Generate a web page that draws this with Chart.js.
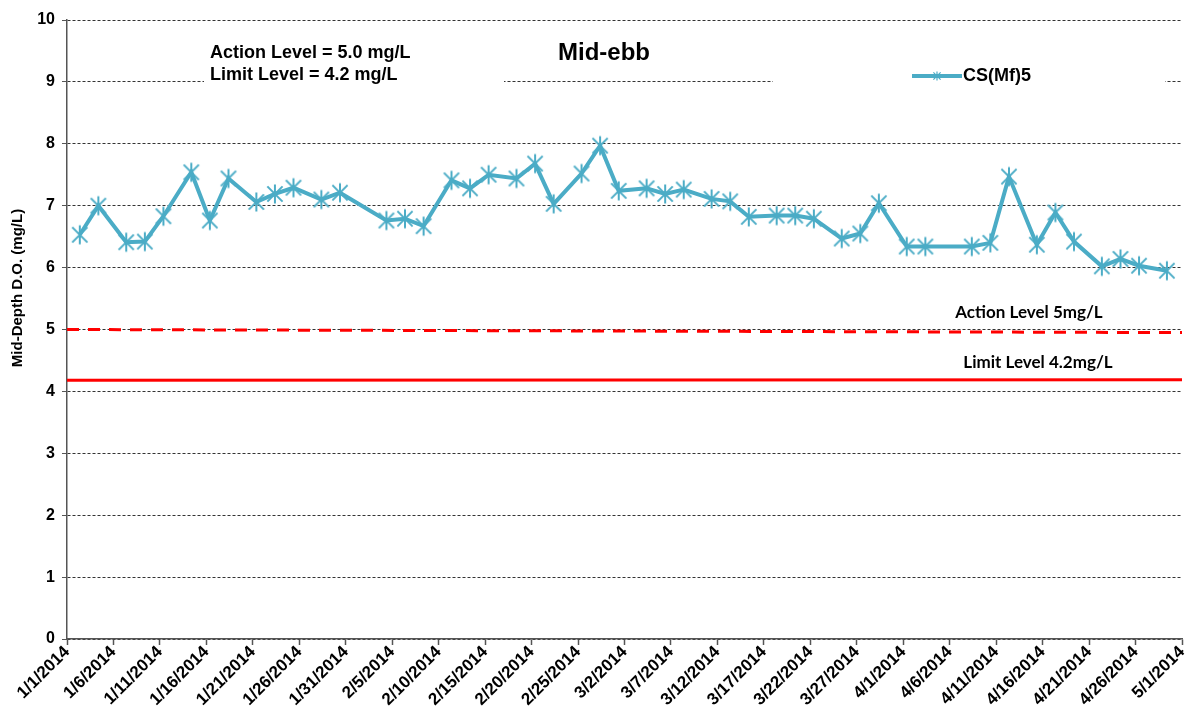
<!DOCTYPE html>
<html>
<head>
<meta charset="utf-8">
<script src="https://cdn.jsdelivr.net/npm/chart.js@4.4.1/dist/chart.umd.min.js"></script>
<style>
  html, body { margin: 0; padding: 0; background: #fff; }
  #wrap { width: 1197px; height: 722px; position: relative; }
</style>
</head>
<body>
<div id="wrap"><canvas id="chart"></canvas></div>
<script>
// Sampling dates (Mid-ebb, CS(Mf)5)
const sampleDates = [
  '2014-01-02', '2014-01-04', '2014-01-07', '2014-01-09', '2014-01-11', '2014-01-14', '2014-01-16',
  '2014-01-18', '2014-01-21', '2014-01-23', '2014-01-25', '2014-01-28', '2014-01-30', '2014-02-04',
  '2014-02-06', '2014-02-08', '2014-02-11', '2014-02-13', '2014-02-15', '2014-02-18', '2014-02-20',
  '2014-02-22', '2014-02-25', '2014-02-27', '2014-03-01', '2014-03-04', '2014-03-06', '2014-03-08',
  '2014-03-11', '2014-03-13', '2014-03-15', '2014-03-18', '2014-03-20', '2014-03-22', '2014-03-25',
  '2014-03-27', '2014-03-29', '2014-04-01', '2014-04-03', '2014-04-08', '2014-04-10', '2014-04-12',
  '2014-04-15', '2014-04-17', '2014-04-19', '2014-04-22', '2014-04-24', '2014-04-26', '2014-04-29'
];
const doValues = [
  6.53, 7.00, 6.41, 6.42, 6.83, 7.54, 6.76,
  7.44, 7.06, 7.19, 7.29, 7.10, 7.21, 6.76,
  6.79, 6.67, 7.41, 7.28, 7.50, 7.44, 7.68,
  7.03, 7.52, 7.97, 7.24, 7.28, 7.19, 7.26,
  7.11, 7.07, 6.82, 6.84, 6.84, 6.79, 6.47,
  6.55, 7.04, 6.34, 6.34, 6.34, 6.40, 7.47,
  6.37, 6.89, 6.42, 6.02, 6.14, 6.03, 5.95
];
const levelDates = ['2014-01-01', '2014-05-01'];
const actionLevel = [5.0, 4.95];
const limitLevel = [4.18, 4.19];
const yTicks = [0, 1, 2, 3, 4, 5, 6, 7, 8, 9, 10];

const startMs = Date.UTC(2014, 0, 1);
const dayOf = (s, hour) => (Date.parse(s + 'T' + hour + ':00:00Z') - startMs) / 864e5;
const fmtDay = v => {
  const d = new Date(startMs + v * 864e5);
  return (d.getUTCMonth() + 1) + '/' + d.getUTCDate() + '/' + d.getUTCFullYear();
};

const blue = '#4bacc6';
const arial = '"Liberation Sans", Arial, sans-serif';

// Excel-like star marker: X plus a vertical bar
function makeStar(size, color, width) {
  const c = document.createElement('canvas');
  c.width = size; c.height = size;
  const g = c.getContext('2d');
  const m = size / 2, r = size / 2 - 1.5;
  g.strokeStyle = color;
  g.lineWidth = width;
  g.beginPath();
  g.moveTo(m - r * 0.8, m - r * 0.8); g.lineTo(m + r * 0.8, m + r * 0.8);
  g.moveTo(m + r * 0.8, m - r * 0.8); g.lineTo(m - r * 0.8, m + r * 0.8);
  g.moveTo(m, m - r); g.lineTo(m, m + r);
  g.stroke();
  return c;
}
const star = makeStar(22, blue, 2);
const smallStar = makeStar(12, blue, 1.2);

const seriesData = sampleDates.map((d, i) => ({ x: dayOf(d, '09'), y: doValues[i] }));
const actionData = levelDates.map((d, i) => ({ x: dayOf(d, '00'), y: actionLevel[i] }));
const limitData = levelDates.map((d, i) => ({ x: dayOf(d, '00'), y: limitLevel[i] }));

const annotations = {
  id: 'annotations',
  afterDatasetsDraw(chart) {
    const ctx = chart.ctx;
    ctx.save();
    // white boxes hiding gridlines behind the text boxes
    ctx.fillStyle = '#fff';
    ctx.fillRect(204, 36, 300, 52);
    ctx.fillRect(773, 62, 392, 28);

    ctx.fillStyle = '#000';
    ctx.textBaseline = 'middle';
    ctx.textAlign = 'left';
    ctx.font = 'bold 18px ' + arial;
    ctx.fillText('Action Level = 5.0 mg/L', 210, 53);
    ctx.fillText('Limit Level = 4.2 mg/L', 210, 75);

    ctx.textAlign = 'center';
    ctx.font = 'bold 24px ' + arial;
    ctx.fillText('Mid-ebb', 604, 53);

    // legend
    ctx.strokeStyle = blue;
    ctx.lineWidth = 4;
    ctx.beginPath();
    ctx.moveTo(912, 76); ctx.lineTo(962, 76);
    ctx.stroke();
    ctx.drawImage(smallStar, 937 - 6, 76 - 6);
    ctx.textAlign = 'left';
    ctx.font = 'bold 18px ' + arial;
    ctx.fillText('CS(Mf)5', 963, 76);

    // level labels
    ctx.textAlign = 'center';
    ctx.font = 'bold 17px Lato, "Open Sans", sans-serif';
    ctx.fillText('Action Level 5mg/L', 1029, 313);
    ctx.fillText('Limit Level 4.2mg/L', 1038, 363);

    // y axis title
    ctx.translate(18, 288);
    ctx.rotate(-Math.PI / 2);
    ctx.font = 'bold 15px ' + arial;
    ctx.fillText('Mid-Depth D.O. (mg/L)', 0, 0);
    ctx.restore();
  }
};

new Chart(document.getElementById('chart'), {
  type: 'line',
  data: {
    datasets: [
      {
        label: 'Action Level',
        data: actionData,
        borderColor: '#ff0000',
        borderWidth: 3,
        borderDash: [12, 9],
        pointRadius: 0,
        fill: false
      },
      {
        label: 'Limit Level',
        data: limitData,
        borderColor: '#ff0000',
        borderWidth: 3,
        pointRadius: 0,
        fill: false
      },
      {
        label: 'CS(Mf)5',
        data: seriesData,
        borderColor: blue,
        borderWidth: 4,
        pointStyle: star,
        pointRadius: 11,
        pointHoverRadius: 11,
        tension: 0,
        fill: false
      }
    ]
  },
  options: {
    responsive: true,
    maintainAspectRatio: false,
    animation: false,
    layout: { padding: { top: 20, right: 10, left: 0, bottom: 0 } },
    plugins: {
      legend: { display: false },
      tooltip: { enabled: false }
    },
    scales: {
      x: {
        type: 'linear',
        min: 0,
        max: 120,
        afterFit: s => { s.height = 83; s.paddingRight = 0; s.paddingLeft = 0; },
        afterBuildTicks: s => {
          s.ticks = [];
          for (let v = 0; v <= 120; v += 5) s.ticks.push({ value: v });
        },
        ticks: {
          callback: v => fmtDay(v),
          minRotation: 45,
          maxRotation: 45,
          autoSkip: false,
          padding: -3,
          color: '#000',
          font: { family: arial, size: 17, weight: 'bold' }
        },
        grid: {
          drawOnChartArea: false,
          drawTicks: true,
          tickLength: 6,
          tickColor: '#555',
          tickWidth: 1.5
        },
        border: { color: '#555', width: 1.5 }
      },
      y: {
        min: 0,
        max: 10,
        afterFit: s => { s.width = 67; s.paddingTop = 0; s.paddingBottom = 0; },
        afterBuildTicks: s => { s.ticks = yTicks.map(v => ({ value: v })); },
        ticks: {
          padding: 7,
          color: '#000',
          font: { family: arial, size: 16, weight: 'bold' }
        },
        grid: {
          color: '#333',
          lineWidth: 1,
          tickBorderDash: [],
          tickLength: 5,
          tickColor: '#555'
        },
        border: { color: '#555', width: 1.5, dash: [3, 2] }
      }
    }
  },
  plugins: [annotations]
});
</script>
</body>
</html>
